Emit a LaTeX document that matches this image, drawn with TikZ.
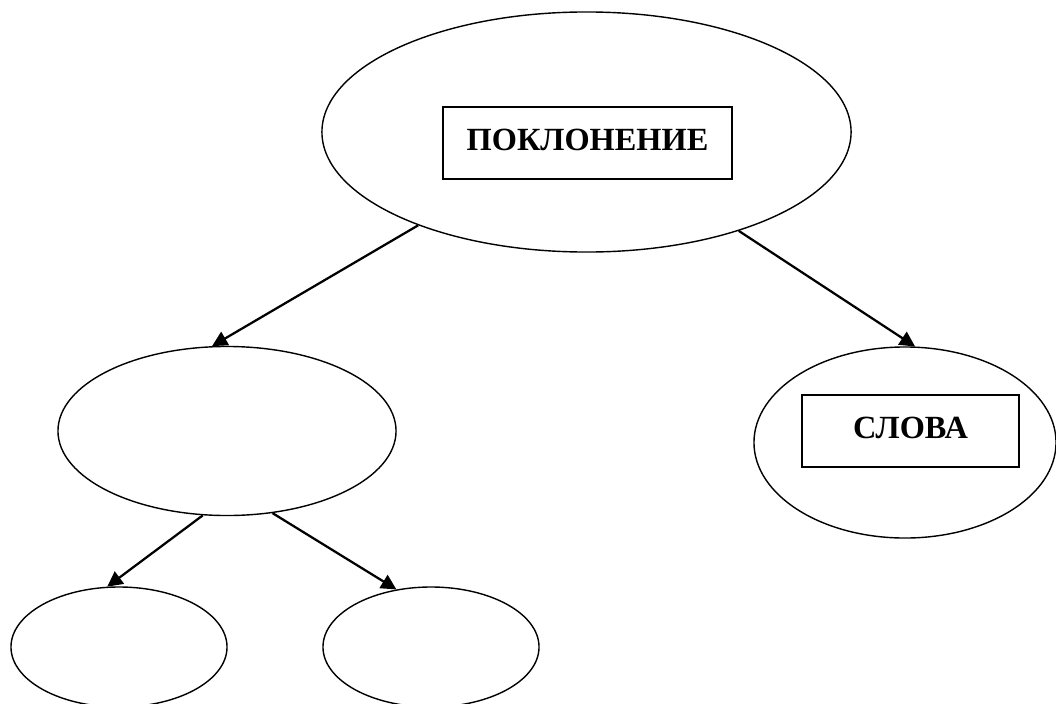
\documentclass[tikz,border=0pt]{standalone}
\usepackage{fontspec}
\setmainfont{Liberation Serif}
\usetikzlibrary{arrows.meta,shapes.geometric}
\tikzset{
  oval/.style={draw=black,ellipse,line width=1pt,inner sep=0pt},
  frame/.style={draw=black,line width=1.2pt,inner sep=0pt,minimum height=1.8cm,align=center,font=\bfseries\fontsize{23}{28}\selectfont},
  link/.style={-{Triangle[length=3.8mm,width=3.8mm]},draw=black,line width=1.6pt},
}
\begin{document}
\begin{tikzpicture}[x=0.025cm,y=-0.025cm]
  \useasboundingbox (0,0) rectangle (1056,703);
  \node[oval,minimum width=13.225cm,minimum height=6cm] (pokl) at (586.5,132) {};
  \node[frame,minimum width=7.225cm] (poklbox) at (587.5,143) {ПОКЛОНЕНИЕ\vphantom{g}};
  \node[oval,minimum width=8.45cm,minimum height=4.225cm] (mid) at (227,431) {};
  \node[oval,minimum width=7.55cm,minimum height=4.775cm] (slova) at (905,442.5) {};
  \node[frame,minimum width=5.425cm] (slovabox) at (910.5,431) {СЛОВА\vphantom{g}};
  \node[oval,minimum width=5.4cm,minimum height=3cm] (leafl) at (119,647) {};
  \node[oval,minimum width=5.4cm,minimum height=3cm] (leafr) at (431,647) {};

  \draw[link] (pokl.209) -- (mid.100);
  \draw[link] (pokl.327) -- (slova.84);
  \draw[link] (mid.254) -- (leafl.101);
  \draw[link] (mid.299) -- (leafr.121);
\end{tikzpicture}
\end{document}
